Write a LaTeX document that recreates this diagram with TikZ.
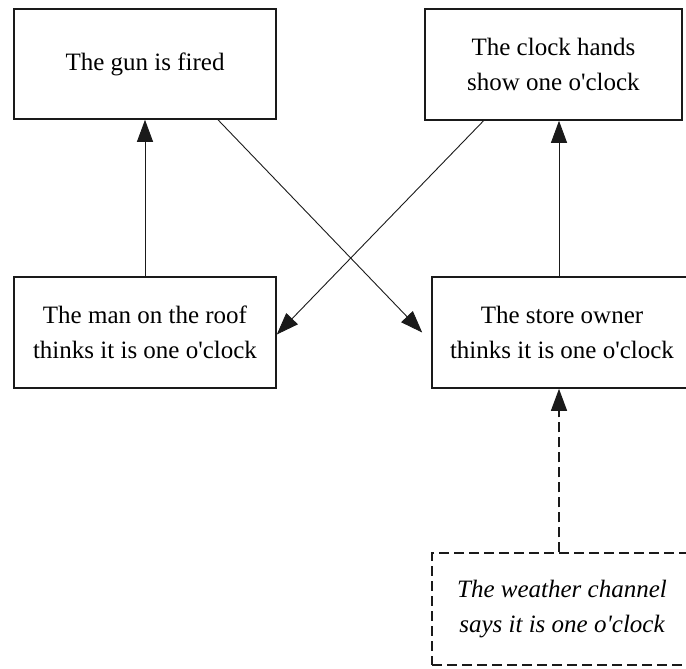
\documentclass[tikz,border=0pt]{standalone}
\usepackage{fontspec}
\setmainfont{Liberation Serif}
\usepackage{xcolor}
\usepackage{tikz}
\usetikzlibrary{arrows.meta}
\definecolor{ink}{HTML}{1A1A1A}
\tikzset{
  box/.style={draw=ink, line width=1.6pt, align=center, inner sep=0pt,
    font=\fontsize{25}{35}\selectfont},
  dbox/.style={box, dash pattern=on 10pt off 5pt, line width=1.3pt, font=\fontsize{25}{35}\selectfont\itshape},
  arr/.style={draw=ink, line width=0.9pt, -{Triangle[length=22pt,width=16pt]}},
  darr/.style={arr, line width=1.3pt, dash pattern=on 10pt off 5pt}
}

\begin{document}
\begin{tikzpicture}[x=1pt,y=-1pt]
  \useasboundingbox (0,0) rectangle (686,669);

  \node[box, minimum width=262pt, minimum height=110pt] (gun) at (145,64) {The gun is fired};
  \node[box, minimum width=257pt, minimum height=111pt] (clock) at (553.5,64.5) {The clock hands\\show one o\textquotesingle clock};
  \node[box, minimum width=262pt, minimum height=111pt] (man) at (145,332.5) {The man on the roof\\thinks it is one o\textquotesingle clock};
  \node[box, minimum width=260pt, minimum height=111pt] (store) at (562,332.5) {The store owner\\thinks it is one o\textquotesingle clock};
  \node[dbox, minimum width=260pt, minimum height=112pt] (weather) at (562,609) {The weather channel\\says it is one o\textquotesingle clock};

  \draw[arr] (man.north) -- (gun.south);
  \draw[arr] ([xshift=-3pt]store.north) -- ([xshift=-3pt]store.north |- clock.south);
  \draw[darr] ([xshift=-3pt]weather.north) -- ([xshift=-3pt]store.south);
  \draw[arr] ([xshift=73pt]gun.south) -- ([xshift=-9pt]store.west);
  \draw[arr] ([xshift=-70pt]clock.south) -- ([yshift=-2pt]man.east);
\end{tikzpicture}
\end{document}
